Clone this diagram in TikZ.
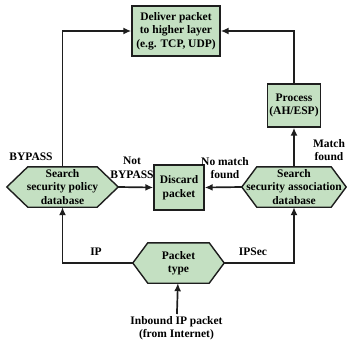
\documentclass[tikz,border=0pt]{standalone}
\usepackage{fontspec}
\setmainfont{Liberation Serif}
\usetikzlibrary{positioning,backgrounds,arrows,arrows.meta}
\definecolor{boxgreen}{RGB}{196,224,194}
\definecolor{linegray}{RGB}{30,30,30}

\begin{document}
\begin{tikzpicture}[
		x=1pt,y=-1pt,
		font=\fontsize{11.5}{13.5}\selectfont\bfseries,
		box/.style={
			draw=linegray,
			fill=boxgreen,
			line width=1.4pt,
			align=center,
			inner sep=2pt
		},
		hexnode/.style={
			draw=none,
			align=center,
			inner sep=0pt,
			minimum height=40pt
		},
		hexshape/.style={
			draw=linegray,
			fill=boxgreen,
			line width=1.4pt,
			line join=miter
		},
		note/.style={align=center,inner sep=0pt},
		link/.style={line width=1.7pt,draw=linegray},
		>={Latex[length=8pt,width=7pt]}
		]
		\useasboundingbox (0,0) rectangle (347,345);
		% boxes
		\node[box,minimum width=88pt,minimum height=50pt] (deliver) at (176,31) {Deliver packet\\to higher layer\\(e.g. TCP, UDP)};
		\node[box,minimum width=53pt,minimum height=43pt] (process) at (294,105.5) {Process\\(AH/ESP)};
		\node[box,minimum width=50pt,minimum height=45pt] (discard) at (179,187.5) {Discard\\packet};
		% hexagons
		\node[hexnode,minimum width=111pt] (spd) at (62.5,187) {Search\\security policy\\database};
		\node[hexnode,minimum width=104pt] (sad) at (294,187) {Search\\security association\\database};
		\node[hexnode,minimum width=91pt] (ptype) at (178.5,263) {Packet\\type};
		\begin{scope}[on background layer]
			\foreach \n/\e in {spd/21,sad/15,ptype/15}
				\draw[hexshape] (\n.west) -- ([xshift=\e pt]\n.north west) -- ([xshift=-\e pt]\n.north east)
					-- (\n.east) -- ([xshift=-\e pt]\n.south east) -- ([xshift=\e pt]\n.south west) -- cycle;
		\end{scope}
		% input
		\node[note,anchor=north,inner sep=2pt] (inbound) at (176.5,314) {Inbound IP packet\\(from Internet)};
		% labels
		\node[note] (bypass) at (31,157) {BYPASS};
		\node[note] (notbypass) at (132,168) {Not\\BYPASS};
		\node[note] (nomatch) at (225,168) {No match\\found};
		\node[note] (match) at (329,150) {Match\\found};
		\node[note] (ip) at (96,252) {IP};
		\node[note] (ipsec) at (253,252) {IPSec};
		% connectors
		\draw[link,->] (inbound) -- (ptype);
		\draw[link,->] (ptype.west) -| (spd.south);
		\draw[link,->] (ptype.east) -| (sad.south);
		\draw[link,->] (spd.east) -- (discard.west);
		\draw[link,->] (sad.west) -- (discard.east);
		\draw[link,->] (spd.north) |- (deliver.west);
		\draw[link,->] (sad.north) -- (process.south);
		\draw[link,->] (process.north) |- (deliver.east);
\end{tikzpicture}
\end{document}
